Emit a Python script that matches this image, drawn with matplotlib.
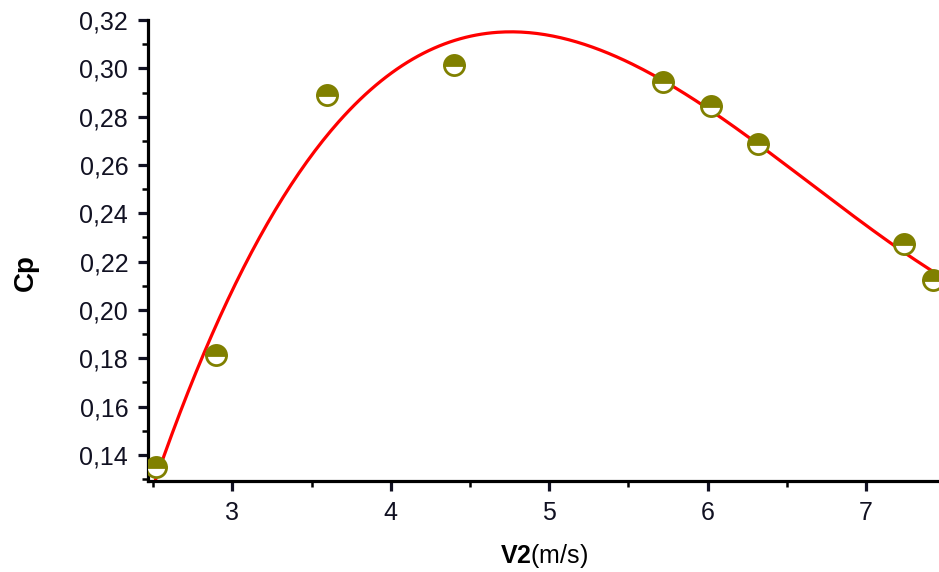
import numpy as np
import matplotlib.pyplot as plt
from matplotlib.ticker import MultipleLocator, FuncFormatter

# measured points
v2 = [2.52, 2.90, 3.60, 4.40, 5.72, 6.02, 6.32, 7.24, 7.42]
cp = [0.135, 0.1815, 0.2888, 0.3015, 0.2945, 0.2845, 0.2685, 0.2275, 0.2125]

x_ticks = [3, 4, 5, 6, 7]
y_ticks = [0.14, 0.16, 0.18, 0.20, 0.22, 0.24, 0.26, 0.28, 0.30, 0.32]


def main():
    plt.rcParams['font.family'] = ['Liberation Sans', 'DejaVu Sans']
    plt.rcParams['mathtext.fontset'] = 'custom'
    plt.rcParams['mathtext.bf'] = 'Liberation Sans:bold'

    fig = plt.figure(figsize=(9.39, 5.72), dpi=100)
    ax = fig.add_axes([0.158, 0.159, 0.842, 0.806])

    # polynomial fit (red curve)
    fit = np.poly1d(np.polyfit(v2, cp, 3))
    xr = np.linspace(2.47, 7.46, 300)
    ax.plot(xr, fit(xr), '-', c='red', lw=2.3, zorder=2)

    ax.plot(v2, cp, 'o', ms=14.5, fillstyle='top', mfc='#808000',
            mfcalt='white', mec='#808000', mew=2, ls='none', zorder=3)

    ax.set_xlim(2.47, 7.46)
    ax.set_ylim(0.1292, 0.32)
    ax.set_xticks(x_ticks)
    ax.set_yticks(y_ticks)
    ax.xaxis.set_minor_locator(MultipleLocator(0.5))
    ax.yaxis.set_minor_locator(MultipleLocator(0.01))
    ax.yaxis.set_major_formatter(FuncFormatter(
        lambda v, p: ('%.2f' % v).replace('.', ',')))

    for s in ['top', 'right']:
        ax.spines[s].set_visible(False)
    for s in ['left', 'bottom']:
        ax.spines[s].set_linewidth(2.3)

    ax.tick_params(which='major', direction='out', length=7.5, width=2.3,
                   labelsize=18, colors='#111122', pad=7)
    ax.tick_params(which='minor', direction='out', length=4, width=1.8)

    ax.set_xlabel(r'$\bf{V2}$(m/s)', fontsize=18, labelpad=12)
    ax.set_ylabel('Cp', fontsize=20, fontweight='bold')
    ax.yaxis.set_label_coords(-0.138, 0.453)

    fig.savefig('out.png', dpi=100)


if __name__ == "__main__":
    main()
